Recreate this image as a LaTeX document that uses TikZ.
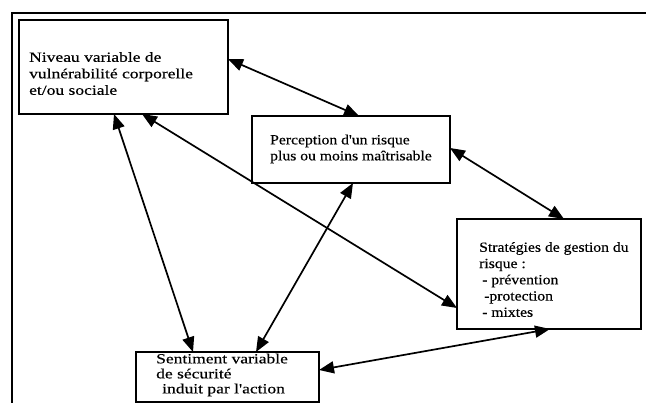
\documentclass[tikz,border=0pt]{standalone}
\usepackage{fontspec}
\setmainfont{Liberation Serif}
\newfontfamily\fa{Liberation Serif}[FakeStretch=1.25,FakeBold=0.4]
\newfontfamily\fb{Liberation Serif}[FakeStretch=1.12,FakeBold=0.4]
\usetikzlibrary{arrows.meta,calc}
\begin{document}
\begin{tikzpicture}[x=1pt,y=-1pt,
  box/.style={draw,line width=1.7pt,inner sep=0pt,outer sep=0pt,fill=white},
  txt/.style={align=left,inner sep=0pt,anchor=west},
  conn/.style={{Triangle[length=15pt,width=12pt]}-{Triangle[length=15pt,width=12pt]},line width=1.7pt}]
\useasboundingbox (0,0) rectangle (646,403);
\fill[white] (0,0) rectangle (646,403);
\draw[line width=1.7pt] (646,13) -- (12,13) -- (12,403);
\node[box,minimum width=209pt,minimum height=94pt] (b1) at (123.5,67) {};
\node[box,minimum width=198pt,minimum height=67pt] (b2) at (351,149.5) {};
\node[box,minimum width=184pt,minimum height=110pt] (b3) at (549,274) {};
\node[box,minimum width=183pt,minimum height=50pt] (b4) at (227.5,377) {};
\node[txt,font=\fa\fontsize{14}{16.5}\selectfont] (t1) at (29,73.5) {Niveau variable de\\vulnérabilité corporelle\\et/ou sociale};
\node[txt,font=\fb\fontsize{14}{16}\selectfont] (t2) at (270,149) {Perception d'un risque\\plus ou moins maîtrisable};
\node[txt,font=\fb\fontsize{14}{16.25}\selectfont] (t3) at (479,279.5) {Stratégies de gestion du\\risque :\\\hspace{3pt}- prévention\\\hspace{5pt}-protection\\\hspace{3pt}- mixtes};
\node[txt,font=\fa\fontsize{14}{15}\selectfont] (t4) at (156,375) {Sentiment variable\\de sécurité\\\hspace{6pt}induit par l'action};
\draw[conn] ([yshift=8pt]b1.east) -- ([xshift=8pt]b2.north);
\draw[conn] ([yshift=1.5pt]b2.east) -- ([xshift=15pt]b3.north);
\draw[conn] ([xshift=18.5pt]b1.south) -- ([yshift=-34pt]b3.west);
\draw[conn] ([xshift=-9.5pt]b1.south) -- ([xshift=-34.5pt]b4.north);
\draw[conn] ([xshift=2pt]b2.south) -- ([xshift=28.5pt]b4.north);
\draw[conn] ([yshift=7pt]b4.east) -- ([xshift=1pt]b3.south);
\end{tikzpicture}
\end{document}
